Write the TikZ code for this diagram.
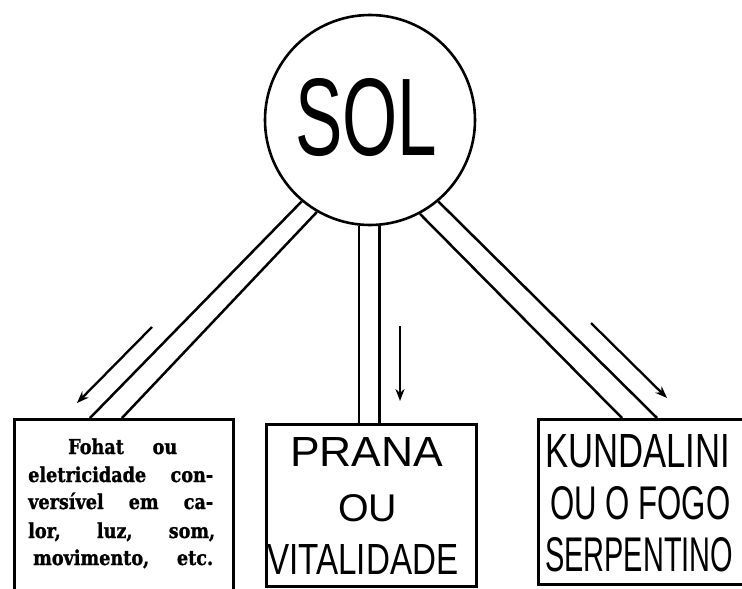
\documentclass[tikz,border=0pt]{standalone}
\usepackage{fontspec}
\usepackage{graphicx}
\setmainfont{Liberation Serif}
\newfontfamily\letfont{Liberation Sans}
\newfontfamily\bodyfont[FakeStretch=0.86, BoldFeatures={FakeBold=1.2}]{DejaVu Serif}
\usetikzlibrary{calc,arrows.meta}
\newcommand{\fitt}[3]{\resizebox{#1pt}{#2pt}{\letfont #3}}
\tikzset{
  boxnode/.style={draw, line width=2.8pt, rectangle, inner sep=0pt, anchor=north west},
  rail/.style={line width=2.5pt},
  flow/.style={line width=2.3pt, -{Stealth[length=12pt,width=9pt]}},
  lettering/.style={inner sep=0pt, anchor=south west},
  bodyline/.style={inner sep=0pt, anchor=base west, font=\bodyfont\bfseries\fontsize{20.5pt}{26pt}\selectfont}
}
\begin{document}
\begin{tikzpicture}[x=1pt,y=-1pt]
\useasboundingbox (0,0) rectangle (742,589);
\clip (0,0) rectangle (742,589);
\fill[white] (0,0) rectangle (742,589);

% sun
\node[draw, circle, line width=2.6pt, minimum size=210pt, inner sep=0pt] (sol) at (370,120) {};
\node[lettering] (soltext) at (295,157) {\fitt{142}{77}{SOL}};

% boxes
\node[boxnode, minimum width=219pt, minimum height=200pt] (fohatbox) at (13,418) {};
\node[boxnode, minimum width=210pt, minimum height=162pt] (pranabox) at (265,423) {};
\node[boxnode, minimum width=230pt, minimum height=165pt] (kundbox) at (537,418) {};

% rails
\draw[rail] (sol.230.5) -- ($(fohatbox.north west)+(77,0)$);
\draw[rail] (sol.240.6) -- ($(fohatbox.north west)+(109,0)$);
\draw[rail] (sol.264.5) -- (sol.264.5 |- pranabox.north);
\draw[rail] (sol.275.5) -- (sol.275.5 |- pranabox.north);
\draw[rail] (sol.298.2) -- ($(kundbox.north west)+(85,0)$);
\draw[rail] (sol.310) -- ($(kundbox.north west)+(120,0)$);

% arrows
\coordinate (a1s) at (152,327); \coordinate (a1e) at (77,403);
\coordinate (a2s) at (400,326); \coordinate (a2e) at (400,401);
\coordinate (a3s) at (591,323); \coordinate (a3e) at (667,398);
\draw[flow] (a1s) -- (a1e);
\draw[flow] (a2s) -- (a2e);
\draw[flow] (a3s) -- (a3e);

% left box text
\node[bodyline] (f1) at (68,454) {\makebox[109pt][s]{Fohat\hfill ou}};
\node[bodyline] (f2) at (28,482) {\makebox[185pt][s]{eletricidade\hfill con-}};
\node[bodyline] (f3) at (28,509) {\makebox[185pt][s]{versível\hfill em\hfill ca-}};
\node[bodyline] (f4) at (28,538) {\makebox[187pt][s]{lor,\hfill luz,\hfill som,}};
\node[bodyline] (f5) at (33,565) {\makebox[180pt][s]{movimento,\hfill etc.}};

% middle box text
\node[lettering] (p1) at (290,467) {\fitt{153}{29}{PRANA}};
\node[lettering] (p2) at (338,522) {\fitt{59}{27}{OU}};
\node[lettering] (p3) at (267,575) {\fitt{191}{30}{VITALIDADE}};

% right box text
\node[lettering] (k1) at (545,468) {\fitt{185}{33}{KUNDALINI}};
\node[lettering] (k2) at (550,520) {\fitt{180}{33}{OU O FOGO}};
\node[lettering] (k3) at (545,572) {\fitt{188}{34}{SERPENTINO}};
\end{tikzpicture}
\end{document}
